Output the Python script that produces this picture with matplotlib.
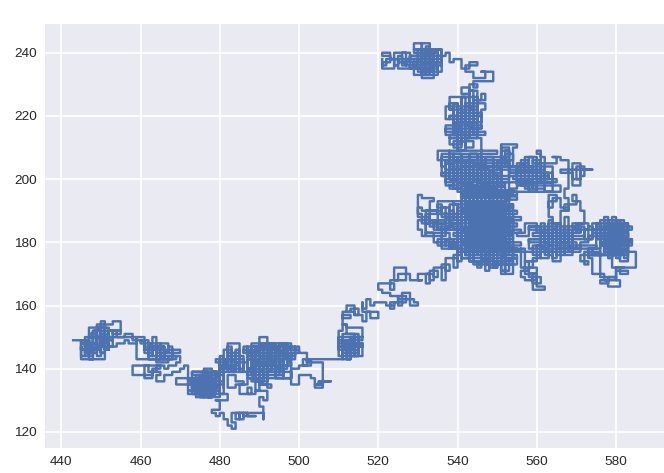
import matplotlib
matplotlib.use('Agg')
import matplotlib.pyplot as plt
import numpy as np

plt.rcParams['font.family'] = ['Liberation Sans', 'DejaVu Sans']

# walk, section by section (corner points, joined as steps)
left_x = [443,445,447,446,448,445,445,448,447,449, 448,451,450,452,449,451,453,451,450,449,
          451,450,448,447,449,452,450,451,453,455, 453,455,453,452,450,452,454,456,457,459,
          453,451,452,450,451,449,450,448,449,447, 448,446,447,445,446,445,447,446,448,447,
          449,448,450,449,451,450,452,451,453,452, 454,456,458,460]
left_y = [149,148,149,147,146,147,143,143,146,148, 143,145,148,147,150,152,150,148,146,152,
          155,153,153,151,150,149,147,154,155,152, 152,151,152,150,149,147,148,149,148,150,
          149,146,151,148,153,147,152,146,151,145, 150,144,149,144,148,146,145,148,144,150,
          145,152,144,154,145,153,146,150,147,152, 150,151,149,149]

mid_x = [461,463,462,464,463,465,464,466,465,467, 466,468,461,463,462,465,464,467,469,
         459,461,460,463,464,462,461,463,465,464, 466,465,468,467,464,466,465,468,470,468,
         470,469,467,466,464,462,465,463,458,462, 461,463,465,464,466,468,470,471,472,472]
mid_y = [146,144,148,144,147,143,147,144,148,145, 143,146,147,145,143,145,142,144,143,
         150,149,148,150,147,149,145,146,148,144, 147,145,147,145,143,146,144,146,145,144,
         142,141,140,141,139,141,140,138,141,141, 137,139,138,136,138,139,140,141,139,137]

low_x = [469,473,472,474,473,475,474,476,475,477, 476,478,477,474,473,476,478,475,474,477,
         479,476,473,475,478,480,478,476,479,481, 473,480,472,479,473,480,472,481,474,480,
         473,479,475,480,475,476,477,478,479,474,475,476,477]
low_y = [135,137,133,137,132,137,131,138,132,139, 131,138,133,136,134,133,135,134,137,132,
         137,139,135,136,133,137,140,139,135,139, 138,137,136,135,134,133,132,136,135,134,
         133,132,131,138,132,139,131,139,132,138,133,137,132]

hump_x = [479,481,480,482,481,483,482,484,483,481, 483,484,485,483,482,484,486,484,482,480,
          479,481,481,486,480,485,479,484,482,483,484,485,486,483,482,481,480]
hump_y = [138,141,140,142,141,144,140,143,146,143, 141,145,148,148,145,142,144,139,143,138,
          139,134,139,140,141,142,143,144,147,139,146,139,143,145,140,144,138]

dip_x = [480,482,482,479,480,478,479,480,481,482, 483,484,483,485,484,486,485,487,486,489,
         487,491,491,490,490,491,492,490,489]
dip_y = [132,132,130,130,127,126,125,126,124,122, 121,123,126,124,126,124,126,126,125,125,
         126,124,128,129,131,130,133,133,137]

knot_x = [487,484,482,482,484,486,485,488,487,489, 490,488,490,492,493,490,489,488,487,489,
          491,490,492,491,488,486,487,489,488,490, 489,487,489,490,488,490,487,486,488,491,
          490,492,494,492,493,495,494,492,493,491, 490,492,491,493,494,496,495,497,496,494,
          493,495,498,496,499,497,498,500,499,497, 495,497,498,496,494,496,498,
          487,497,486,498,487,496,488,497,487,496, 488,495,487,498,488,497,
          488,489,490,491,492,493,494,495,496, 489,490,492,494,496]
knot_y = [135,134,135,138,136,135,132,134,132,133, 136,137,135,134,135,137,138,140,138,136,
          139,135,138,141,139,142,140,139,143,141, 144,143,146,143,141,145,147,145,142,146,
          148,147,146,143,147,144,148,145,142,144, 150,148,144,142,145,147,143,146,141,143,
          146,148,146,144,147,143,145,147,143,141, 145,142,141,138,140,137,139,
          147,146,145,144,143,142,141,140,139,143, 138,145,137,147,144,148,
          138,147,137,146,139,148,140,147,141, 145,136,144,137,146]

loop_x = [500,502,501,503,500,498,500,500,503,504, 506,505,508,505,504,506,506,504,502,510, 511,510]
loop_y = [145,141,143,141,140,135,135,138,137,135, 135,136,136,135,134,137,142,142,143,143, 144,147]

rise_x = [510,516,511,516,510,515,511,516,512,513,514,515,511,512,
          510,513,511,514,512,515,513,514,511,510, 513,511,514,512,515,516,514,512,513,511,
          512,510,511,512,516,516,514,512,511,513, 511,513,515,514,512,514,516,517,519,520,
          518,516,516,517,518,519,521,522,524,523, 524,526,525,527,526,528,530,529,527,525,
          523,521,520,520,522,524,523,525,527,526, 524,525,528,528,531,530,533,532,534,533,
          535,534,537,536,538,537,540,539,541,540]
rise_y = [150,149,148,147,146,145,144,148,143,150,144,151,146,149,
          147,149,146,148,145,147,150,146,149,147, 145,148,144,147,148,147,149,146,143,146,
          148,152,154,153,152,150,151,154,157,156, 158,159,157,160,158,157,155,158,158,156,
          158,161,159,162,160,161,161,160,161,159, 161,160,163,161,164,160,161,162,162,163,
          164,165,166,167,167,165,168,168,172,172, 168,170,170,168,168,170,167,170,168,171,
          169,172,168,173,171,175,172,176,174,178]

lobe_x = [541,538,540,537,539,536,538,535,537,534, 532,531,530,530,533,532,535,533,531,530,
          533,531,530,530,531,534,533,536,535,537, 536,539,538,540,537,539,541,
          534,537,533,536,532,538,535,539,534,537, 532,535,538,540]
lobe_y = [178,180,179,181,178,183,181,179,180,183, 182,184,185,187,188,186,187,190,191,188,
          186,189,191,195,194,193,190,192,189,191, 188,190,186,188,185,184,186,
          184,187,185,183,189,191,193,187,186,182, 190,184,192,186]

core_x = [540,555,538,556,537,554,539,556,536,555, 538,556,537,555,540,554,539,553,541,555,
          541,543,542,545,544,547,546,549,548,551, 550,553,552,554,553,
          542,553,541,552,542,554,541,553,543,554, 542,552,541,553,542,552, 555,541,554,542]
core_y = [177,178,179,180,181,182,183,184,185,186, 187,188,189,190,191,192,193,194,195,196,
          175,195,176,196,174,197,175,194,173,196, 176,195,175,192,177,
          178.5,179.5,180.5,181.5,182.5,183.5,184.5,185.5,186.5,187.5,
          188.5,189.5,190.5,191.5,192.5,193.5, 194.5,195.5,196.5,197.5]

under_x = [552,545,548,543,541,544,546,548,550,549, 547,549,553,552,554,553,551,552,555,554,
           556,542,555,543,554,545, 546,547,548,549,550,551,552,
           556,558,557,560,558,556,557,560,559,561, 558,559,562,560,558,559,561,560,557,556]
under_y = [177,176,174,175,177,173,175,172,174,176, 173,177,177,170,175,171,176,173,175,177,
           177,176,175,174,173,172, 178,171,178,172,178,170,178,
           172,174,170,172,171,169,168,170,167,169, 170,165,166,170,172,175,177,174,178,177]

east_x = [560,558,561,559,562,560,557,555,558,561, 563,562,564,563,561,563,565,564,563,564,
          566,565,567,565,568,567,569,568,566,564, 563,565,563,564,566,568,567,570,569,571,
          572,569,571,570,573,572,574,573,575,574,
          572,558,571,559,572,558,570,560,571, 561,562,563,564,565,566,567,568,569]
east_y = [178,181,176,179,183,186,183,182,185,183, 180,177,182,175,178,186,184,179,176,174,
          176,180,178,182,180,176,179,183,186,188, 195,193,191,194,191,190,192,195,193,190,
          186,185,183,186,184,181,185,182,186,181,
          185,184,183,182,181,180,179,178,177, 186,176,187,175,186,176,188,177,184]

far_x = [576,574,577,578,580,579,581,580,582,578, 576,579,577,581,578,583,581,577,576,575,
         577,582,578,581,576,584,580,581,583,582, 583,575,584,574,583,575,584,576,583,577,
         582,578,576,577,578,579,580,581,582,583, 579,580,581,
         585,585,582,581,583,580,578,577,574,573,
         576,578,576,580,578,581,580,582,579, 571,573,572,576,573,575,570,571,573,575]
far_y = [178,176,180,187,178,186,177,184,179,182, 184,179,185,180,177,183,176,180,186,182,
         181,182,183,184,179,181,178,174,177,175, 186,185,184,183,182,181,180,179,178,177,
         176,187,176,188,175,188,175,187,176,186, 176,187,177,
         174,172,172,170,171,169,168,170,175,176,
         169,167,168,169,166,168,172,172,176, 174,173,177,176,178,179,178,180,182,178]

arm_x = [566,568,567,568,566,569,571,569,574,571, 570,572,571,569,568,566,564,565,562,561,
         560,561,559,558,556,559,557,560,558,556, 562,560,563,561,564,562,559,557,555,558,
         556,553,555,553,552,554,552,551,553,551, 555,554,552,553,550,551,549,551,548,550]
arm_y = [190,194,197,203,202,200,198,203,203,200, 204,201,205,203,206,207,207,205,207,209,
         208,205,207,205,204,202,207,203,206,202, 203,200,201,199,202,197,200,198,200,198,
         202,201,204,206,204,208,206,210,207,211, 210,206,209,203,206,201,204,199,202,199]

north_x = [547,546,548,545,547,544,546,543,545,542, 544,541,543,540,542,539,541,538,540,537,
           539,536,538,535,537,536,539,537,541,539,
           550,538,552,537,553,536,551,538,553,537, 552,539,550,538,549,540,
           566,556,565,554,563,553,558,560,562,564,
           541,543,545,547,549,551,553,555,557,559,561]
north_y = [204,198,203,199,205,200,207,198,204,199, 206,198,207,199,206,197,208,200,206,198,
           207,201,209,206,204,208,205,203,203,201,
           197,198,199,200,201,202,203,204,205,206, 207,208,209,200,206,196,
           198,199,200,201,202,203,196,205,196,204,
           196,208,195,207,196,209,197,205,197,206,199]

tower_x = [546,538,547,537,546,539,545,538,546,540, 545,539,540,541,542,543,544,545,538,539,
           541,539,542,540,538,541,544,542,539,541, 543,545,542,544,541,539,537,540,538,537,
           539,541,538,540,542,541,543,544,546,545, 547,546,544,545,542,544,546,547,545,543,
           541,543,545,544,546,549,549,546,547]
tower_y = [213,214,215,216,217,218,219,220,221,222, 223,224,212,226,213,228,214,226,222,218,
           210,212,209,213,211,212,210,214,216,214, 216,213,217,218,215,217,214,220,219,223,
           217,222,224,219,221,226,222,218,220,224, 222,216,218,224,223,225,227,225,228,229,
           227,230,229,231,231,231,234,234,232]

top_x = [544,542,545,543,541,539,538,537,535,536, 533,534,532,534,531,535,533,532,535,534,
         531,533,531,529,532,534,530,531,533,532, 536,529,535,528,536,529,535,528,536,
         530,531,532,533,534,535,529,528,526,527,525,
         529,530,527,528,526,525,527,524,525,523, 521,523,521,524,522,521]
top_y = [234,236,237,235,238,237,240,239,241,236, 238,240,235,238,241,237,233,240,236,232,
         237,234,243,241,239,235,238,243,241,237, 241,240,239,238,237,236,235,239,234,
         241,233,242,234,241,233,237,240,236,238,235,
         238,236,238,237,239,237,240,236,238,240, 239,237,235,238,236,238]

walk_x = np.concatenate([left_x, mid_x, low_x, hump_x, dip_x, knot_x, loop_x, rise_x, lobe_x,
                         core_x, under_x, east_x, far_x, arm_x, north_x, tower_x, top_x])
walk_y = np.concatenate([left_y, mid_y, low_y, hump_y, dip_y, knot_y, loop_y, rise_y, lobe_y,
                         core_y, under_y, east_y, far_y, arm_y, north_y, tower_y, top_y])

fig = plt.figure(figsize=(6.64, 4.73), dpi=100)
ax = fig.add_axes([45 / 664, 1 - 448 / 473, 619 / 664, 424 / 473])
ax.set_facecolor('#EAEAF2')
ax.plot(walk_x, walk_y, drawstyle='steps-post', color='#4C72B0', lw=1.75)
ax.grid(color='white', lw=1.2)
ax.set_axisbelow(True)
for s in ax.spines.values():
    s.set_visible(False)
ax.tick_params(length=0, labelsize=9.7, labelcolor='#262626', pad=6)
ax.set_xticks(np.arange(440, 581, 20))
ax.set_yticks(np.arange(120, 241, 20))
fig.savefig('out.png')
